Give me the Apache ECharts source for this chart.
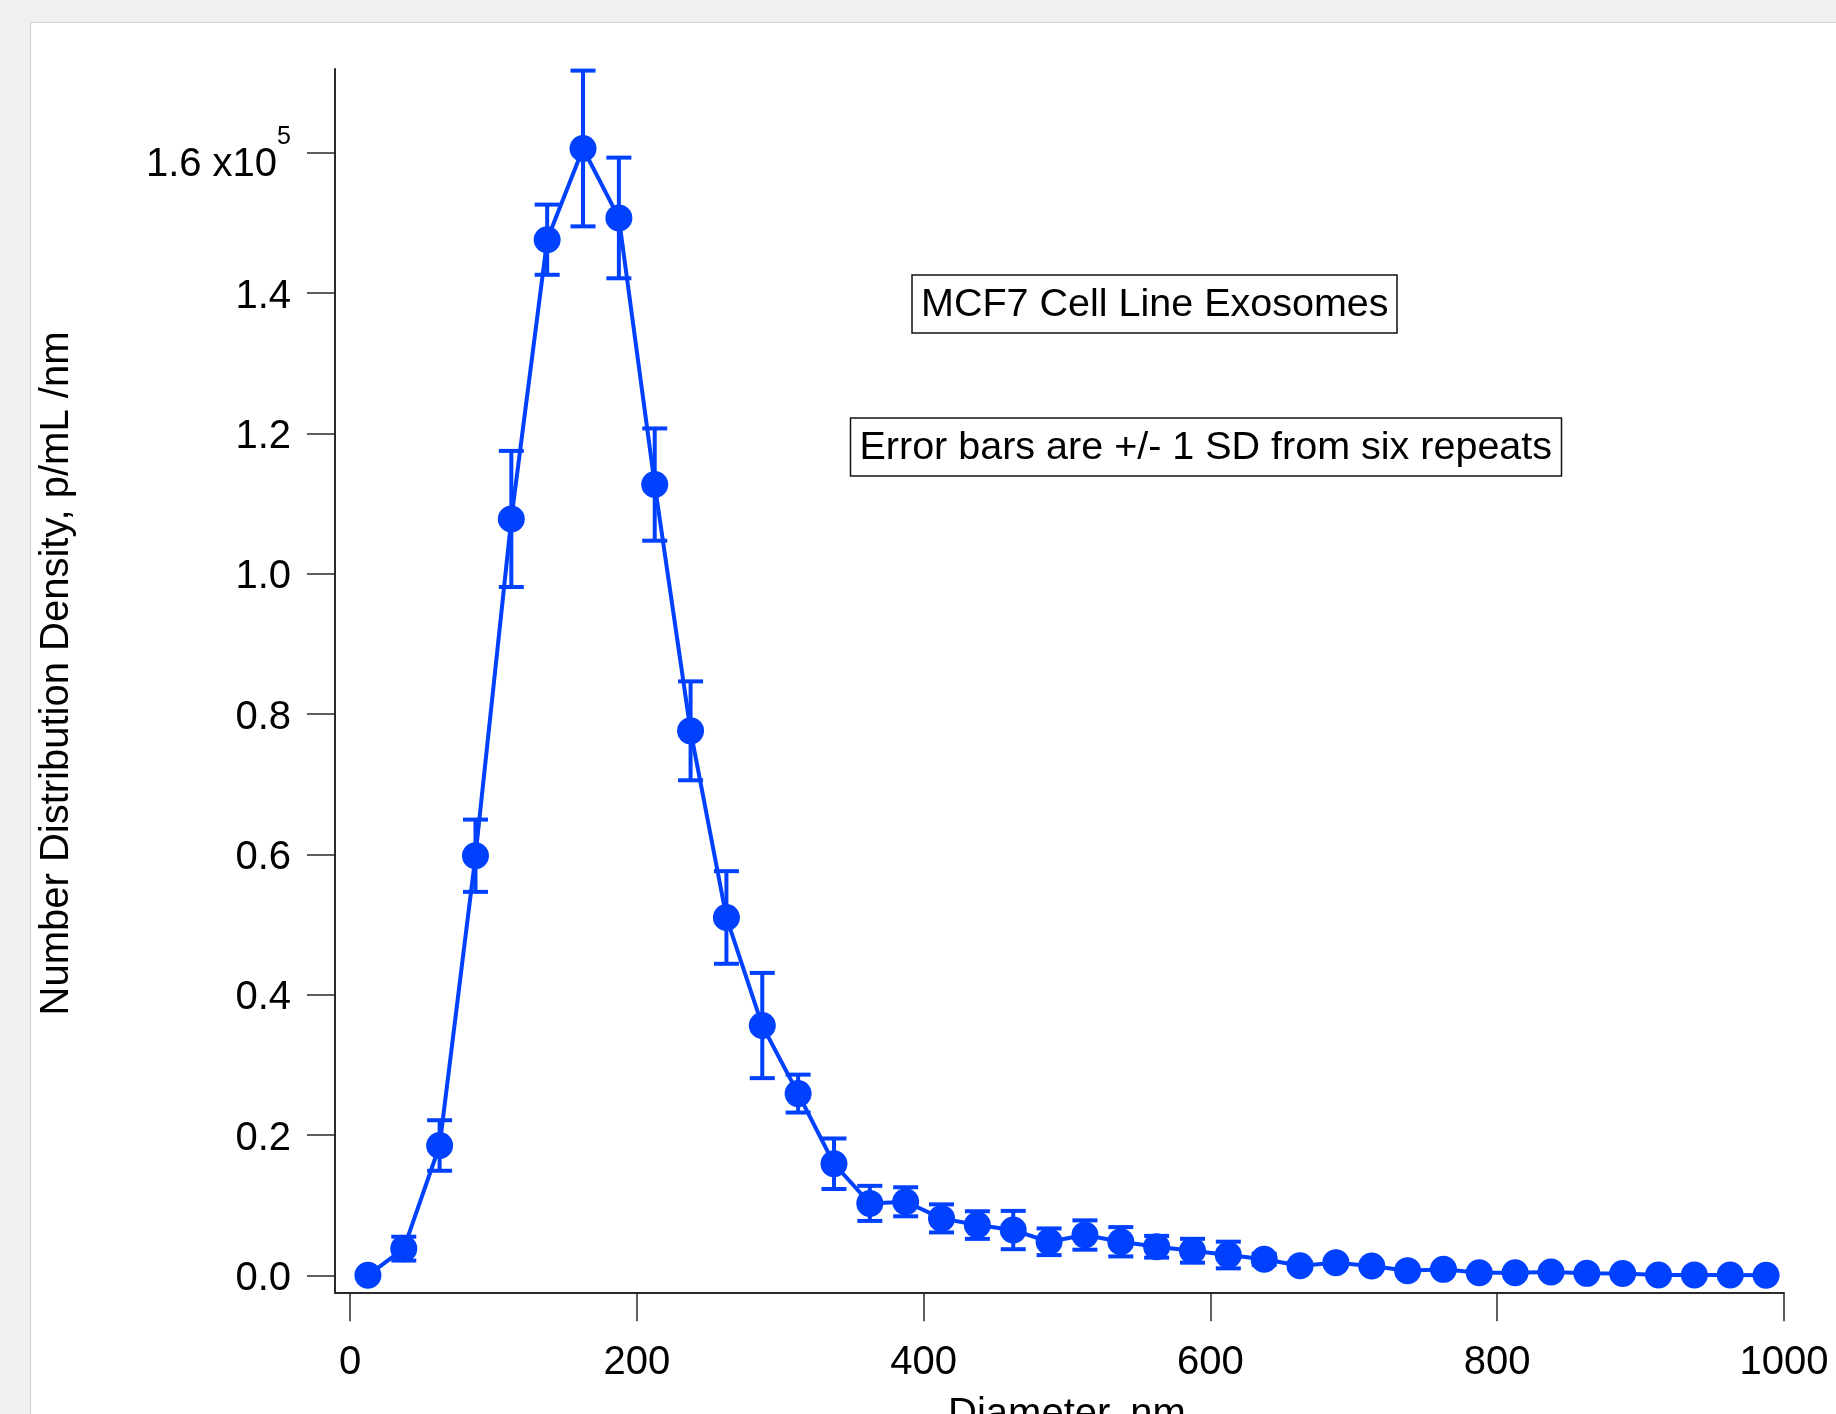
<!DOCTYPE html>
<html lang="en">
  <head>
    <meta charset="UTF-8" />
    <title>MCF7 Cell Line Exosomes</title>
    <style>
      html, body {
        margin: 0;
        padding: 0;
        width: 1836px;
        height: 1414px;
        overflow: hidden;
        background-color: #f0f0f0;
      }
      /* white sheet the graph sits on */
      #panel {
        position: absolute;
        left: 30px;
        top: 22px;
        right: 0;
        bottom: 0;
        background-color: #fff;
        border-left: 1px solid #cfcfcf;
        border-top: 1px solid #cfcfcf;
      }
      #main {
        position: absolute;
        left: 0;
        top: 0;
        width: 1836px;
        height: 1414px;
      }
    </style>
  </head>
  <body>
    <div id="panel"></div>
    <div id="main"></div>
  </body>
  <script src="https://cdn.jsdelivr.net/npm/echarts@6/dist/echarts.min.js"></script>
  <script>
    // bin centres, nm
    var diameters = [12.5, 37.5, 62.5, 87.5, 112.5, 137.5, 162.5, 187.5, 212.5, 237.5,
      262.5, 287.5, 312.5, 337.5, 362.5, 387.5, 412.5, 437.5, 462.5, 487.5,
      512.5, 537.5, 562.5, 587.5, 612.5, 637.5, 662.5, 687.5, 712.5, 737.5,
      762.5, 787.5, 812.5, 837.5, 862.5, 887.5, 912.5, 937.5, 962.5, 987.5];
    // number distribution density, p/mL /nm
    var density = [0, 3800, 18500, 59800, 107800, 147600, 160600, 150700, 112700, 77600,
      51000, 35600, 25900, 15900, 10250, 10480, 8110, 7160, 6450, 4780,
      5740, 4780, 4070, 3500, 2890, 2280, 1370, 1800, 1330, 660,
      850, 370, 370, 470, 280, 250, 40, 40, 40, 0];
    // +/- 1 SD from six repeats
    var sd = [0, 1700, 3600, 5150, 9700, 5000, 11100, 8600, 8000, 7050,
      6600, 7500, 2700, 3600, 2500, 2070, 2000, 1970, 2730, 1900,
      2090, 2090, 1550, 1700, 1900, 800, 500, 500, 400, 300,
      300, 200, 200, 200, 200, 200, 100, 100, 100, 0];
    var xTickStep = 200;
    var yTickStep = 20000;

    var blue = "#0040ff";
    var ink = "#2a2a2a";
    var font = "Liberation Sans, Arial, sans-serif";

    var points = diameters.map(function (d, i) {
      return [d, density[i], sd[i]];
    });

    function renderErrorBar(params, api) {
      var x = api.value(0);
      var y = api.value(1);
      var e = api.value(2);
      if (!e) return;
      var hi = api.coord([x, y + e]);
      var lo = api.coord([x, y - e]);
      var w = 12.5;
      var st = { stroke: blue, lineWidth: 4 };
      return {
        type: "group",
        children: [
          { type: "line", shape: { x1: hi[0], y1: hi[1], x2: lo[0], y2: lo[1] }, style: st },
          { type: "line", shape: { x1: hi[0] - w, y1: hi[1], x2: hi[0] + w, y2: hi[1] }, style: st },
          { type: "line", shape: { x1: lo[0] - w, y1: lo[1], x2: lo[0] + w, y2: lo[1] }, style: st }
        ]
      };
    }

    var myChart = echarts.init(document.getElementById("main"), null, { renderer: "canvas" });
    var option = {
      backgroundColor: "transparent",
      animation: false,
      title: [
        {
          text: "MCF7 Cell Line Exosomes",
          left: 912,
          top: 275,
          padding: [7, 9, 5, 9],
          borderColor: "#111",
          borderWidth: 1.5,
          textStyle: { fontFamily: font, fontSize: 39.5, fontWeight: "normal", color: "#000", lineHeight: 46 }
        },
        {
          text: "Error bars are +/- 1 SD from six repeats",
          left: 850,
          top: 418,
          padding: [7, 9.5, 5, 9.5],
          borderColor: "#111",
          borderWidth: 1.5,
          textStyle: { fontFamily: font, fontSize: 39.5, fontWeight: "normal", color: "#000", lineHeight: 46 }
        }
      ],
      grid: [
        // frame: the two axis lines meeting in the corner
        { left: 335, right: 52, top: 69, bottom: 121, outerBoundsMode: "none" },
        // ticked range 0..1000 / 0..1.6e5
        { left: 350, right: 52, top: 152.7, bottom: 138.7, outerBoundsMode: "none" }
      ],
      xAxis: [
        {
          gridIndex: 0,
          type: "value",
          min: 0,
          max: 1,
          axisLine: { show: true, onZero: false, lineStyle: { color: ink, width: 2 } },
          axisTick: { show: false },
          axisLabel: { show: false },
          splitLine: { show: false }
        },
        {
          gridIndex: 1,
          type: "value",
          min: 0,
          max: 1000,
          interval: xTickStep,
          offset: 18,
          name: "Diameter, nm",
          nameLocation: "middle",
          nameGap: 102,
          nameMoveOverlap: false,
          nameTextStyle: { fontFamily: font, fontSize: 40, color: "#000" },
          axisLine: { show: false, onZero: false },
          axisTick: { show: true, inside: false, length: 28, lineStyle: { color: ink, width: 1.5 } },
          axisLabel: {
            fontFamily: font,
            fontSize: 40,
            color: "#000",
            margin: 50,
            formatter: function (v) { return String(v); }
          },
          splitLine: { show: false }
        }
      ],
      yAxis: [
        {
          gridIndex: 0,
          type: "value",
          min: 0,
          max: 1,
          name: "Number Distribution Density, p/mL /nm",
          nameLocation: "middle",
          nameGap: 258,
          nameMoveOverlap: false,
          nameTextStyle: { fontFamily: font, fontSize: 40, color: "#000", padding: [0, 0, 0, 15] },
          axisLine: { show: true, onZero: false, lineStyle: { color: ink, width: 2 } },
          axisTick: { show: false },
          axisLabel: { show: false },
          splitLine: { show: false }
        },
        {
          gridIndex: 1,
          type: "value",
          min: 0,
          max: 160000,
          interval: yTickStep,
          offset: 15,
          axisLine: { show: false, onZero: false },
          axisTick: { show: true, inside: false, length: 28, lineStyle: { color: ink, width: 1.5 } },
          axisLabel: {
            fontFamily: font,
            fontSize: 40,
            color: "#000",
            margin: 44,
            formatter: function (v) {
              if (v === 160000) return "{b|1.6 x10}{s|5}";
              return "{n|" + (v / 1e5).toFixed(1) + "}";
            },
            rich: {
              n: { fontFamily: font, fontSize: 40, color: "#000", padding: [7, 0, 0, 0] },
              b: { fontFamily: font, fontSize: 40, color: "#000", lineHeight: 64, verticalAlign: "bottom" },
              s: { fontFamily: font, fontSize: 25, color: "#000", verticalAlign: "top", padding: [4, 0, 0, 0] }
            }
          },
          splitLine: { show: false }
        }
      ],
      series: [
        {
          name: "sd",
          type: "custom",
          xAxisIndex: 1,
          yAxisIndex: 1,
          renderItem: renderErrorBar,
          encode: { x: 0, y: 1 },
          data: points,
          clip: false,
          z: 2
        },
        {
          name: "density",
          type: "line",
          xAxisIndex: 1,
          yAxisIndex: 1,
          data: points,
          clip: false,
          symbol: "circle",
          symbolSize: 27,
          showSymbol: true,
          showAllSymbol: true,
          lineStyle: { color: blue, width: 4 },
          itemStyle: { color: blue, borderWidth: 0 },
          z: 3
        }
      ]
    };

    myChart.setOption(option);
  </script>
</html>
